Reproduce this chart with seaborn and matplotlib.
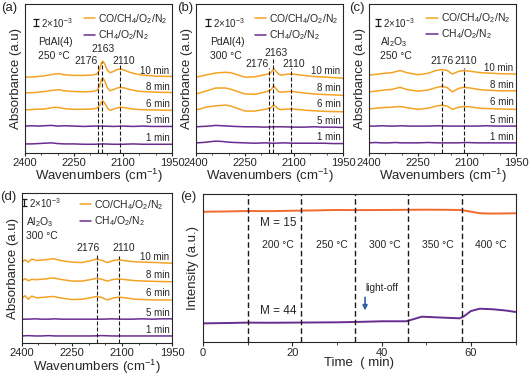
import matplotlib
matplotlib.use("Agg")
import matplotlib.pyplot as plt
from matplotlib.ticker import MultipleLocator
import seaborn as sns

sns.set_theme(style="ticks")
plt.rcParams['font.family'] = ['Liberation Sans', 'DejaVu Sans']
plt.rcParams['mathtext.fontset'] = 'custom'
plt.rcParams['mathtext.rm'] = 'Liberation Sans'
plt.rcParams['mathtext.it'] = 'Liberation Sans:italic'
plt.rcParams['axes.linewidth'] = 0.8

ORANGE = '#F5A324'
PURPLE = '#6A2C91'
RED = '#EE6B2C'
ARROW = '#2F5DA8'

# ---- IR spectra, absorbance in units of 1e-3, relative to each trace baseline ----
times = ['10 min', '8 min', '6 min', '5 min', '1 min']

wn_pd = [2400, 2370, 2340, 2310, 2295, 2280, 2250, 2220, 2195, 2180, 2172, 2166, 2162,
         2156, 2148, 2140, 2130, 2118, 2108, 2095, 2080, 2060, 2040, 2000, 1950]
wn_al = [2400, 2390, 2380, 2370, 2355, 2330, 2305, 2285, 2250, 2220, 2195, 2176, 2160,
         2145, 2125, 2110, 2090, 2060, 2000, 1950]
wn_flat = [2400, 2380, 2360, 2340, 2320, 2300, 2280, 2250, 2220, 2190, 2160, 2130, 2100,
           2070, 2040, 2010, 1980, 1950]

# (a) PdAl(4) 250 C
a_10 = [0, 0.1, 0.4, 0.9, 1.0, 0.7, 0.5, 0.5, 0.6, 0.9, 2.0, 4.0, 4.6, 3.8, 2.0, 1.3, 1.6,
        2.2, 2.3, 2.0, 1.4, 0.9, 0.6, 0.3, 0.2]
a_8 = [0, 0.1, 0.4, 0.8, 0.9, 0.6, 0.4, 0.3, 0.4, 0.7, 1.8, 3.8, 4.3, 3.4, 1.5, 0.6, 0.9,
       1.4, 1.6, 1.4, 1.0, 0.6, 0.4, 0.2, 0.1]
a_6 = [0, 0.2, 0.3, 0.8, 0.7, 0.4, 0.2, 0.2, 0.3, 0.5, 1.2, 2.3, 2.6, 2.0, 0.6, -0.1, 0.2,
       0.6, 0.8, 0.7, 0.4, 0.2, 0.1, 0.0, -0.1]
a_5 = [0, 0.1, 0.0, 0.1, 0.2, 0.0, 0.1, 0.0, -0.1, 0.0, 0.0, -0.1, 0.0, -0.1, 0.0, -0.1, -0.1, -0.1]
a_1 = [0, 0.0, 0.1, 0.2, 0.3, 0.1, 0.0, 0.0, -0.1, -0.1, 0.0, -0.1, -0.1, 0.0, -0.1, -0.1, -0.1, -0.1]
offsets_a = [21.7, 17.2, 12.3, 7.7, 2.6]

# (b) PdAl(4) 300 C
b_10 = [0, 0.6, 1.2, 1.4, 1.3, 0.9, 0.0, 0.1, 0.6, 0.9, 1.2, 1.9, 2.4, 1.8, 0.9, 0.6, 0.7,
        0.9, 0.9, 0.8, 0.6, 0.4, 0.2, 0.0, -0.3]
b_8 = [0, 0.8, 1.7, 1.7, 1.4, 0.9, 0.0, -0.1, 0.4, 0.8, 1.1, 1.8, 2.3, 1.6, 0.7, 0.5, 0.6,
       0.7, 0.7, 0.6, 0.4, 0.2, 0.0, -0.2, -0.4]
b_6 = [0, 0.8, 1.2, 1.4, 1.2, 0.7, -0.3, -0.3, 0.1, 0.4, 0.6, 1.1, 1.4, 1.0, 0.3, 0.1, 0.2,
       0.3, 0.3, 0.2, 0.1, -0.1, -0.2, -0.4, -0.5]
b_5 = [0, 0.1, 0.2, 0.4, 0.3, 0.2, 0.1, 0.0, 0.0, -0.1, 0.0, 0.0, -0.1, -0.1, 0.0, -0.1, -0.1, -0.2]
b_1 = [0, 0.1, 0.3, 0.5, 0.4, 0.2, 0.1, 0.0, -0.1, 0.0, -0.1, 0.0, -0.1, -0.1, -0.1, -0.1, -0.2, -0.2]
offsets_b = [21.7, 16.9, 12.3, 7.5, 2.9]

# (c) Al2O3 250 C
c_10 = [-0.3, -0.2, -0.1, 0.0, 0.2, 0.4, 1.0, 0.4, -0.2, 0.2, 1.0, 1.3, 1.0, 0.0, 0.8, 1.0,
        0.8, 0.4, 0.1, 0.0]
c_8 = [-0.3, -0.2, -0.1, 0.0, 0.2, 0.4, 1.0, 0.4, -0.1, 0.2, 0.9, 1.3, 0.9, -0.3, 0.7, 1.0,
       0.8, 0.3, 0.0, 0.0]
c_6 = [-0.2, -0.1, 0.0, 0.1, 0.2, 0.3, 0.5, 0.2, -0.3, 0.0, 0.6, 0.9, 0.6, -0.3, 0.3, 0.5,
       0.4, 0.0, -0.2, -0.3]
c_5 = [0, 0.0, 0.1, 0.0, 0.0, 0.1, 0.0, 0.0, 0.0, 0.1, 0.0, 0.0, 0.0, 0.0, 0.1, 0.0, 0.0, 0.0]
c_1 = [0, 0.1, 0.0, 0.0, 0.1, 0.0, 0.0, 0.0, 0.1, 0.0, 0.0, 0.0, 0.1, 0.0, 0.0, 0.0, 0.0, 0.0]
offsets_c = [22.6, 17.8, 12.8, 7.7, 2.9]

# (d) Al2O3 300 C
d_10 = [0.0, 0.8, 0.1, 1.0, 0.6, 0.8, 1.1, 0.6, 0.1, 0.0, 0.5, 1.0, 0.6, 0.0, 0.6, 0.8,
        0.5, 0.2, 0.0, -0.2]
d_8 = [0.0, 0.7, 0.1, 0.5, 0.4, 0.6, 0.9, 0.5, 0.0, 0.0, 0.4, 0.8, 0.5, 0.0, 0.5, 0.6,
       0.4, 0.1, -0.1, -0.2]
d_6 = [0.2, 1.0, 0.0, 0.9, 0.4, 0.6, 0.8, 0.4, -0.1, 0.0, 0.4, 0.8, 0.5, -0.2, 0.4, 0.6,
       0.4, 0.0, -0.2, -0.2]
d_5 = [0, 0.0, 0.1, 0.0, 0.0, 0.1, 0.0, 0.0, 0.0, 0.0, 0.0, 0.1, 0.0, 0.0, 0.1, 0.0, 0.1, 0.1]
d_1 = [0, 0.1, 0.0, 0.0, 0.1, 0.0, 0.0, 0.0, 0.0, 0.0, 0.1, 0.0, 0.0, 0.0, 0.0, 0.0, 0.0, 0.0]
offsets_d = [23.1, 17.8, 12.6, 6.9, 2.1]

peaks_pd = [2176, 2163, 2110]
peaks_al = [2176, 2110]

# ---- (e) mass spec signals vs time ----
t_m15 = [0, 5, 10, 15, 20, 25, 30, 35, 40, 45, 50, 55, 57.5, 59, 60.5, 62, 64, 66, 70]
m15 = [0.880, 0.882, 0.885, 0.884, 0.887, 0.889, 0.892, 0.891, 0.892, 0.893, 0.894, 0.893,
       0.892, 0.886, 0.878, 0.870, 0.868, 0.868, 0.870]
t_m44 = [0, 5, 10, 15, 20, 25, 30, 35, 40, 45.5, 47, 49, 52, 55, 57.5, 58.5, 60, 62, 65, 68, 70]
m44 = [0.126, 0.128, 0.131, 0.130, 0.131, 0.132, 0.133, 0.136, 0.140, 0.140, 0.153, 0.171,
       0.167, 0.163, 0.160, 0.175, 0.209, 0.225, 0.221, 0.212, 0.203]
temp_bounds = [10, 22, 34, 46, 58]
temp_labels = ['200 °C', '250 °C', '300 °C', '350 °C', '400 °C']

W, H = 529, 375
fig = plt.figure(figsize=(W / 100, H / 100), dpi=100)


def box(l, t, r, b):
    return [l / W, 1 - b / H, (r - l) / W, (b - t) / H]


legend_labels = ['CO/CH$_4$/O$_2$/N$_2$', 'CH$_4$/O$_2$/N$_2$']


def spectra_panel(ax, wn_o, oranges, flats, offsets, peaks, tops, plabels, sample, temp,
                  ytop, scale_xy, legend_x, legend_y):
    traces = [(wn_o, oranges[0]), (wn_o, oranges[1]), (wn_o, oranges[2]),
              (wn_flat, flats[0]), (wn_flat, flats[1])]
    for i, ((xs, ys), off) in enumerate(zip(traces, offsets)):
        col = ORANGE if i < 3 else PURPLE
        sns.lineplot(x=xs, y=[v + off for v in ys], ax=ax, color=col, lw=1.1,
                     estimator=None, sort=False,
                     label=legend_labels[0] if i == 0 else (legend_labels[1] if i == 3 else None))
        ax.text(1958, off + 1.7, times[i], ha='right', va='center', fontsize=7)
    ax.vlines(peaks, 0, tops, colors='k', lw=0.8, linestyles=(0, (3.6, 1.8)))
    for (x, y, s) in plabels:
        ax.text(x, y, s, ha='center', va='center', fontsize=7.5)
    ax.set_xlim(2400, 1950)
    ax.set_ylim(0, ytop)
    ax.set_xticks([2400, 2250, 2100, 1950])
    ax.xaxis.set_minor_locator(MultipleLocator(50))
    ax.set_yticks([])
    ax.tick_params(axis='x', which='major', direction='out', length=2.5, width=0.8,
                   labelsize=8, pad=1)
    ax.tick_params(axis='x', which='minor', direction='out', length=1.5, width=0.6)
    ax.set_xlabel('Wavenumbers (cm$^{-1}$)', fontsize=9.5, labelpad=-0.5)
    ax.set_ylabel('Absorbance (a.u)', fontsize=9.5, labelpad=2)
    # scale bar
    sx, sy = scale_xy
    ax.errorbar([sx], [sy], yerr=[1.0], color='k', lw=0.9, capsize=2.2, capthick=0.9)
    ax.text(sx - 15, sy, '2×10$^{-3}$', ha='left', va='center', fontsize=7)
    ax.text(sx - 6, sy - 5.6, sample, ha='left', va='center', fontsize=7.5)
    ax.text(sx - 6, sy - 9.6, temp, ha='left', va='center', fontsize=7.5)
    ax.legend(loc='upper left', bbox_to_anchor=(legend_x, legend_y), frameon=False,
              fontsize=7.5, handlelength=1.1, handletextpad=0.3, labelspacing=0.25,
              borderpad=0, borderaxespad=0)


ax_a = fig.add_axes(box(25, 4.5, 172, 153))
spectra_panel(ax_a, wn_pd, [a_10, a_8, a_6], [a_5, a_1], offsets_a, peaks_pd,
              [25.2, 26.0, 25.2],
              [(2162, 29.8, '2163'), (2213, 26.3, '2176'), (2097, 26.3, '2110')],
              'PdAl(4)', '250 °C', 42.5, (2366, 37.3), 0.40, 0.95)

ax_b = fig.add_axes(box(196, 4.5, 343, 153))
spectra_panel(ax_b, wn_pd, [b_10, b_8, b_6], [b_5, b_1], offsets_b, peaks_pd,
              [24.3, 27.2, 24.3],
              [(2156, 28.5, '2163'), (2213, 25.4, '2176'), (2102, 25.4, '2110')],
              'PdAl(4)', '300 °C', 42.5, (2362, 37.3), 0.40, 0.95)

ax_c = fig.add_axes(box(369, 4.5, 516, 153))
spectra_panel(ax_c, wn_al, [c_10, c_8, c_6], [c_5, c_1], offsets_c, peaks_al,
              [23.8, 24.3],
              [(2177, 26.4, '2176'), (2103, 26.4, '2110')],
              'Al$_2$O$_3$', '250 °C', 42.5, (2371, 37.3), 0.39, 0.955)

ax_d = fig.add_axes(box(21.7, 193.3, 172.3, 343.3))
spectra_panel(ax_d, wn_al, [d_10, d_8, d_6], [d_5, d_1], offsets_d, peaks_al,
              [25.5, 25.0],
              [(2201, 27.2, '2176'), (2096, 27.2, '2110')],
              'Al$_2$O$_3$', '300 °C', 42.9, (2393, 40.2), 0.385, 0.97)

# (e)
ax_e = fig.add_axes(box(203, 194, 515.5, 342))
sns.lineplot(x=t_m15, y=m15, ax=ax_e, color=RED, lw=1.4, estimator=None, sort=False)
sns.lineplot(x=t_m44, y=m44, ax=ax_e, color=PURPLE, lw=1.4, estimator=None, sort=False)
for tb in temp_bounds:
    ax_e.axvline(tb, color='k', lw=1.0, linestyle=(0, (4, 2.2)))
mids = [16.8, 28.8, 40.8, 52.6, 64.4]
for x, s in zip(mids, temp_labels):
    ax_e.text(x, 0.655, s, ha='center', va='center', fontsize=7.5)
ax_e.text(16.8, 0.804, 'M = 15', ha='center', va='center', fontsize=8.5)
ax_e.text(16.8, 0.21, 'M = 44', ha='center', va='center', fontsize=8.5)
ax_e.annotate('', xy=(36.3, 0.195), xytext=(36.3, 0.32),
              arrowprops=dict(arrowstyle='-|>', color=ARROW, lw=1.2, mutation_scale=7))
ax_e.text(40, 0.365, 'light-off', ha='center', va='center', fontsize=7.2)
ax_e.set_xlim(0, 70)
ax_e.set_ylim(0, 1)
ax_e.set_yticks([])
ax_e.set_xticks([0, 20, 40, 60])
ax_e.xaxis.set_minor_locator(MultipleLocator(10))
ax_e.tick_params(axis='x', which='major', direction='out', length=3, width=0.8,
                 labelsize=8, pad=1)
ax_e.tick_params(axis='x', which='minor', direction='out', length=1.8, width=0.6)
ax_e.set_xlabel('Time  ( min)', fontsize=9.5, labelpad=-0.5)
ax_e.set_ylabel('Intensity (a.u.)', fontsize=9.5, labelpad=3)

# panel letters
for x, y, s in [(1, 2, '(a)'), (177, 2, '(b)'), (349, 2, '(c)'), (0, 191, '(d)'), (180, 191, '(e)')]:
    fig.text(x / W, 1 - y / H, s, ha='left', va='top', fontsize=9.5)

fig.savefig('out.png', dpi=100)
